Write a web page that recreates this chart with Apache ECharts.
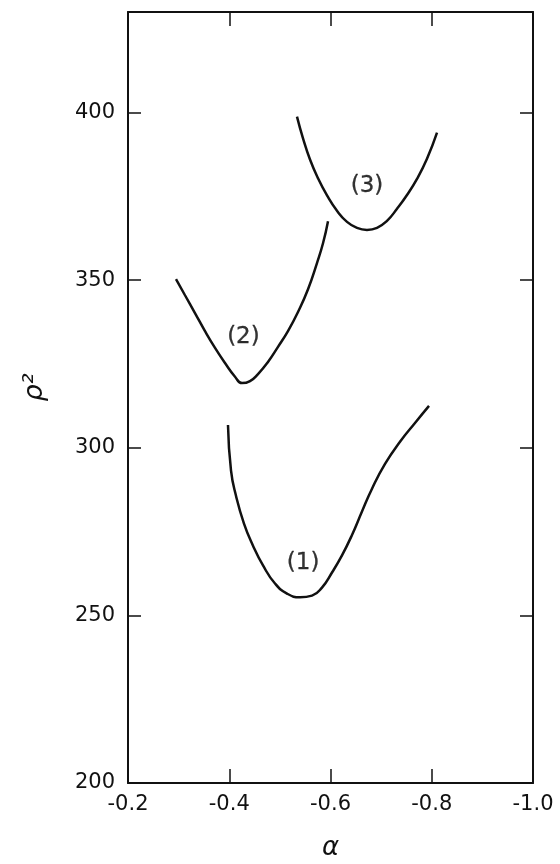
<!DOCTYPE html>
<html>
<head>
<meta charset="utf-8">
<script src="https://cdn.jsdelivr.net/npm/echarts@6/dist/echarts.min.js"></script>
<style>
html,body{margin:0;padding:0;background:#fff;}
#chart{width:560px;height:864px;}
</style>
</head>
<body>
<div id="chart"></div>
<script>
// Curve (1)
const curve1X = [-0.3975, -0.4035, -0.4133, -0.4291, -0.4469, -0.4667, -0.4904, -0.5141, -0.5398, -0.5635, -0.5832, -0.6030, -0.6227, -0.6425, -0.6622, -0.6820, -0.7077, -0.7373, -0.7669, -0.7946];
const curve1Y = [306.8, 293.2, 285.7, 277.4, 270.8, 264.9, 259.5, 256.5, 255.4, 255.9, 258.3, 262.8, 267.9, 274.0, 281.0, 287.8, 295.2, 301.8, 307.4, 312.5];
// Curve (2)
const curve2X = [-0.2948, -0.3126, -0.3323, -0.3521, -0.3719, -0.3916, -0.4114, -0.4252, -0.4410, -0.4568, -0.4765, -0.4963, -0.5160, -0.5358, -0.5556, -0.5733, -0.5852, -0.5951];
const curve2Y = [350.3, 345.5, 340.2, 334.8, 329.8, 325.3, 321.2, 319.3, 319.9, 322.0, 325.6, 330.1, 334.8, 340.5, 347.3, 355.1, 361.0, 367.6];
// Curve (3)
const curve3X = [-0.5338, -0.5457, -0.5595, -0.5753, -0.5931, -0.6128, -0.6326, -0.6523, -0.6721, -0.6919, -0.7116, -0.7314, -0.7511, -0.7709, -0.7906, -0.8104];
const curve3Y = [398.8, 392.3, 386.0, 380.4, 375.3, 370.7, 367.4, 365.6, 365.0, 365.6, 367.7, 371.3, 375.4, 380.2, 386.2, 394.0];
// Curve labels
const labelNames = ['(1)', '(2)', '(3)'];
const labelX = [-0.546, -0.428, -0.672];
const labelY = [265.5, 333.0, 378.0];
// Axes
const xMin = -1.0, xMax = -0.2, xStep = 0.2;
const yMin = 200, yMax = 430, yStep = 50;
const xName = 'α';
const yName = 'ρ²';

const zip = (xs, ys) => xs.map((x, i) => [x, ys[i]]);
const FONT = 'DejaVu Sans';
const ink = '#111';

const lineSeries = (xs, ys) => ({
  type: 'line', xAxisIndex: 0, yAxisIndex: 0,
  data: zip(xs, ys), smooth: 0.5, showSymbol: false, symbol: 'none',
  lineStyle: { color: ink, width: 2.5 }, silent: true, animation: false
});

const chart = echarts.init(document.getElementById('chart'), null, { renderer: 'canvas' });
chart.setOption({
  animation: false,
  backgroundColor: '#fff',
  grid: { left: 128, right: 27, top: 12, bottom: 81, containLabel: false, outerBoundsMode: 'none' },
  xAxis: [
    {
      type: 'value', position: 'bottom', min: xMin, max: xMax, interval: xStep, inverse: true,
      name: xName, nameLocation: 'middle', nameGap: 52,
      nameTextStyle: { fontFamily: FONT, fontSize: 26, color: ink, fontStyle: 'italic' },
      axisLine: { show: true, lineStyle: { color: ink, width: 2 } },
      axisTick: { show: true, inside: true, length: 14, lineStyle: { color: ink, width: 1.5 } },
      axisLabel: { show: true, margin: 11, fontFamily: FONT, fontSize: 21, color: ink,
        formatter: v => v.toFixed(1) },
      splitLine: { show: false }
    },
    {
      type: 'value', position: 'top', min: xMin, max: xMax, interval: xStep, inverse: true,
      axisLine: { show: true, lineStyle: { color: ink, width: 2 } },
      axisTick: { show: true, inside: true, length: 14, lineStyle: { color: ink, width: 1.5 } },
      axisLabel: { show: false }, splitLine: { show: false }
    }
  ],
  yAxis: [
    {
      type: 'value', position: 'left', min: yMin, max: yMax, interval: yStep,
      name: yName, nameLocation: 'middle', nameGap: 80, nameRotate: 90,
      nameTextStyle: { fontFamily: FONT, fontSize: 27, color: ink, fontStyle: 'italic', padding: [0, 0, 0, 20] },
      axisLine: { show: true, lineStyle: { color: ink, width: 2 } },
      axisTick: { show: true, inside: true, length: 13, lineStyle: { color: ink, width: 1.5 } },
      axisLabel: { show: true, margin: 13, fontFamily: FONT, fontSize: 21, color: ink,
        showMaxLabel: false,
        formatter: v => (v % 50 === 0 ? String(v) : '') },
      splitLine: { show: false }
    },
    {
      type: 'value', position: 'right', min: yMin, max: yMax, interval: yStep,
      axisLine: { show: true, lineStyle: { color: ink, width: 2 } },
      axisTick: { show: true, inside: true, length: 13, lineStyle: { color: ink, width: 1.5 } },
      axisLabel: { show: false }, splitLine: { show: false }
    }
  ],
  series: [
    lineSeries(curve1X, curve1Y),
    lineSeries(curve2X, curve2Y),
    lineSeries(curve3X, curve3Y),
    {
      type: 'scatter', xAxisIndex: 0, yAxisIndex: 0, symbolSize: 0, silent: true,
      data: labelNames.map((n, i) => ({ name: n, value: [labelX[i], labelY[i]] })),
      label: { show: true, position: 'inside', formatter: p => p.name,
        fontFamily: FONT, fontSize: 23, color: '#000', textBorderColor: '#000', textBorderWidth: 0.3 }
    }
  ]
});
</script>
</body>
</html>
